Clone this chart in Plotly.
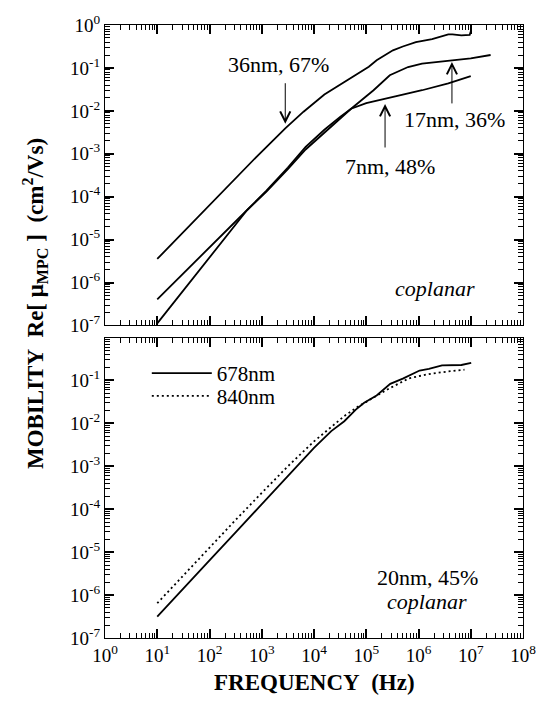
import plotly.graph_objects as go
from plotly.subplots import make_subplots

# ---------------- data ----------------
# top panel
freq_36nm = [10, 31.6, 100, 316, 794, 2820, 6310, 1.58e4, 3.80e4, 6.76e4, 1.12e5, 1.58e5,
             2.24e5, 3.24e5, 5.01e5, 8.91e5, 1.82e6, 2.82e6, 3.72e6, 4.47e6, 6.61e6, 9.55e6, 1.0e7]
mob_36nm = [3.55e-6, 1.51e-5, 6.31e-5, 2.69e-4, 8.51e-4, 3.89e-3, 9.55e-3, 2.40e-2, 4.68e-2,
            7.41e-2, 0.107, 0.151, 0.200, 0.257, 0.316, 0.398, 0.468, 0.537, 0.603, 0.603,
            0.575, 0.589, 0.708]

freq_17nm = [10, 100, 525, 1230, 3160, 6920, 1.58e4, 3.16e4, 5.13e4, 1.0e5, 1.38e5, 2.82e5,
             6.31e5, 1.17e6, 3.72e6, 1.0e7, 2.40e7]
mob_17nm = [4.07e-7, 6.76e-6, 4.90e-5, 1.32e-4, 4.37e-4, 1.26e-3, 3.16e-3, 6.61e-3, 1.12e-2,
            2.19e-2, 3.02e-2, 6.76e-2, 0.105, 0.126, 0.145, 0.166, 0.200]

freq_7nm = [10, 100, 525, 1230, 3160, 6920, 1.58e4, 3.16e4, 5.13e4, 1.0e5, 2.14e5, 5.01e5,
            1.17e6, 3.72e6, 1.0e7]
mob_7nm = [1.12e-7, 3.80e-6, 4.90e-5, 1.38e-4, 4.79e-4, 1.45e-3, 3.63e-3, 7.24e-3, 1.12e-2,
           1.51e-2, 1.91e-2, 2.40e-2, 3.02e-2, 4.37e-2, 6.46e-2]

# bottom panel
freq_678nm = [10, 31.6, 100, 316, 1000, 3160, 1.0e4, 2.14e4, 3.80e4, 6.31e4, 9.12e4, 1.58e5,
              2.0e5, 2.88e5, 5.01e5, 1.05e6, 1.58e6, 2.82e6, 6.61e6, 1.02e7]
mob_678nm = [3.16e-7, 1.45e-6, 6.46e-6, 2.88e-5, 1.32e-4, 6.03e-4, 2.69e-3, 6.61e-3, 1.12e-2,
             2.09e-2, 3.02e-2, 4.47e-2, 5.62e-2, 8.32e-2, 0.110, 0.170, 0.186, 0.224, 0.229, 0.257]

freq_840nm = [10, 31.6, 100, 316, 1000, 3160, 1.0e4, 2.0e4, 3.80e4, 6.76e4, 1.0e5, 1.58e5,
              2.0e5, 2.82e5, 6.61e5, 1.58e6, 3.72e6, 7.59e6]
mob_840nm = [6.46e-7, 2.88e-6, 1.26e-5, 5.62e-5, 2.40e-4, 1.0e-3, 3.80e-3, 7.59e-3, 1.48e-2,
             2.40e-2, 3.16e-2, 4.47e-2, 5.37e-2, 6.61e-2, 0.112, 0.141, 0.162, 0.178]

# axes ticks
x_tickvals = [1, 10, 100, 1e3, 1e4, 1e5, 1e6, 1e7, 1e8]
x_ticktext = ["10<sup>0</sup>", "10<sup>1</sup>", "10<sup>2</sup>", "10<sup>3</sup>",
              "10<sup>4</sup>", "10<sup>5</sup>", "10<sup>6</sup>", "10<sup>7</sup>",
              "10<sup>8</sup>"]
y_tickvals_top = [1e-7, 1e-6, 1e-5, 1e-4, 1e-3, 1e-2, 1e-1, 1]
y_ticktext_top = ["10<sup>-7</sup>", "10<sup>-6</sup>", "10<sup>-5</sup>", "10<sup>-4</sup>",
                  "10<sup>-3</sup>", "10<sup>-2</sup>", "10<sup>-1</sup>", "10<sup>0</sup>"]
y_tickvals_bot = [1e-7, 1e-6, 1e-5, 1e-4, 1e-3, 1e-2, 1e-1]
y_ticktext_bot = ["10<sup>-7</sup>", "10<sup>-6</sup>", "10<sup>-5</sup>", "10<sup>-4</sup>",
                  "10<sup>-3</sup>", "10<sup>-2</sup>", "10<sup>-1</sup>"]

FONT = "Liberation Serif"
LW = 1.8

fig = make_subplots(rows=2, cols=1, vertical_spacing=0.0196)

for fx, my in [(freq_36nm, mob_36nm), (freq_17nm, mob_17nm), (freq_7nm, mob_7nm)]:
    fig.add_trace(go.Scatter(x=fx, y=my, mode="lines", showlegend=False,
                             line=dict(color="black", width=LW)), row=1, col=1)

fig.add_trace(go.Scatter(x=freq_678nm, y=mob_678nm, mode="lines", name="678nm",
                         legend="legend", line=dict(color="black", width=LW)), row=2, col=1)
fig.add_trace(go.Scatter(x=freq_840nm, y=mob_840nm, mode="lines", name="840nm",
                         legend="legend2",
                         line=dict(color="black", width=LW, dash="2px,3px")), row=2, col=1)

fig.update_xaxes(type="log", range=[0, 8], ticks="inside", ticklen=9, tickwidth=2,
                 tickcolor="black", showline=True, linecolor="black", mirror="ticks",
                 tickvals=x_tickvals, ticktext=x_ticktext, showgrid=False,
                 tickfont=dict(family=FONT, size=19, color="black"),
                 minor=dict(ticks="inside", ticklen=5, tickwidth=1, tickcolor="black",
                            dtick="D1", showgrid=False))
fig.update_yaxes(type="log", range=[-7, 0], ticks="inside", ticklen=9, tickwidth=2,
                 tickcolor="black", showline=True, linecolor="black", mirror="ticks",
                 showgrid=False, tickfont=dict(family=FONT, size=19, color="black"),
                 minor=dict(ticks="inside", ticklen=5, tickwidth=1, tickcolor="black",
                            dtick="D1", showgrid=False))
fig.update_xaxes(showticklabels=False, row=1, col=1)
fig.update_yaxes(tickvals=y_tickvals_top, ticktext=y_ticktext_top, row=1, col=1)
fig.update_yaxes(tickvals=y_tickvals_bot, ticktext=y_ticktext_bot, row=2, col=1)

leg_font = dict(family=FONT, size=21, color="black")
fig.update_layout(
    width=548, height=706,
    margin=dict(l=105, r=15, t=23, b=68),
    paper_bgcolor="white", plot_bgcolor="white",
    legend=dict(x=0.100, y=0.465, xanchor="left", yanchor="top",
                bgcolor="rgba(0,0,0,0)", itemwidth=60, font=leg_font),
    legend2=dict(x=0.100, y=0.428, xanchor="left", yanchor="top",
                 bgcolor="rgba(0,0,0,0)", itemwidth=60, font=leg_font),
    font=dict(family=FONT, color="black"),
)

txt = dict(family=FONT, size=22, color="black")
arrow = dict(xref="x", yref="y", text="", showarrow=True, ax=0,
             arrowhead=5, arrowsize=2.0, arrowwidth=1, arrowcolor="black")
ann = [
    # top panel labels (log10 coordinates)
    dict(x=3.33, y=-0.93, xref="x", yref="y", text="36nm, 67%", showarrow=False, font=txt),
    dict(x=6.69, y=-2.21, xref="x", yref="y", text="17nm, 36%", showarrow=False, font=txt),
    dict(x=5.46, y=-3.30, xref="x", yref="y", text="7nm, 48%", showarrow=False, font=txt),
    dict(x=6.32, y=-6.14, xref="x", yref="y", text="<i>coplanar</i>", showarrow=False, font=txt),
    # arrows
    dict(arrow, x=3.45, y=-2.30, ay=-42),
    dict(arrow, x=6.64, y=-0.86, ay=43),
    dict(arrow, x=5.36, y=-1.84, ay=45),
    # bottom panel labels
    dict(x=6.17, y=-5.58, xref="x2", yref="y2", text="20nm, 45%", showarrow=False, font=txt),
    dict(x=6.17, y=-6.16, xref="x2", yref="y2", text="<i>coplanar</i>", showarrow=False, font=txt),
    # axis titles
    dict(x=0.5, y=-0.073, xref="paper", yref="paper", xanchor="center", yanchor="middle",
         text="<b>FREQUENCY\u00a0\u00a0(Hz)</b>", showarrow=False,
         font=dict(family=FONT, size=23, color="black")),
    dict(x=-0.168, y=0.546, xref="paper", yref="paper", xanchor="center", yanchor="middle",
         textangle=-90, showarrow=False,
         text="<b>MOBILITY\u00a0\u00a0Re[\u00a0\u03bc<sub>MPC</sub>\u00a0]\u00a0\u00a0(cm<sup>2</sup>/Vs)</b>",
         font=dict(family=FONT, size=23, color="black")),
]
fig.update_layout(annotations=ann)

fig.write_html("out.html")
